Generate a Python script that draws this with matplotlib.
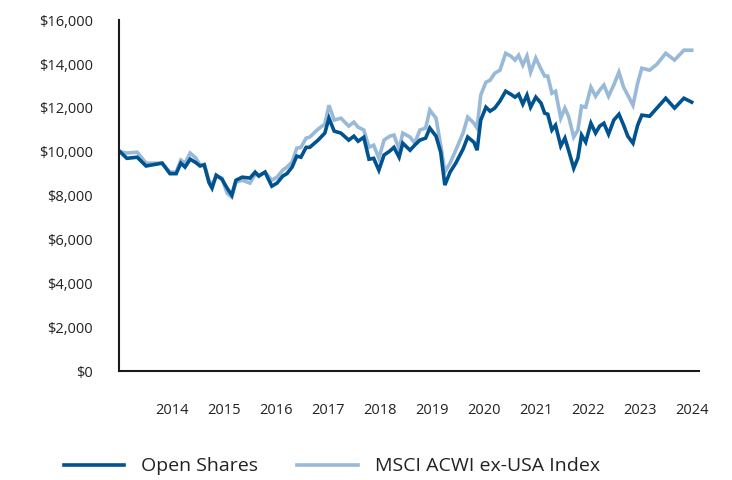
import matplotlib.pyplot as plt
from matplotlib.ticker import FuncFormatter

plt.rcParams['font.family'] = ['Open Sans', 'DejaVu Sans']

# approximate dates (decimal years) of each reading
dates = [2013.00, 2013.13, 2013.33, 2013.50, 2013.81, 2013.96, 2014.08, 2014.17, 2014.25, 2014.35,
         2014.46, 2014.54, 2014.62, 2014.71, 2014.77, 2014.85, 2014.96, 2015.06, 2015.15, 2015.23,
         2015.35, 2015.50, 2015.60, 2015.67, 2015.79, 2015.92, 2016.02, 2016.13, 2016.21, 2016.31,
         2016.40, 2016.48, 2016.58, 2016.65, 2016.81, 2016.94, 2017.02, 2017.12, 2017.25, 2017.40,
         2017.50, 2017.58, 2017.69, 2017.79, 2017.88, 2017.98, 2018.08, 2018.19, 2018.27, 2018.37,
         2018.44, 2018.58, 2018.67, 2018.77, 2018.88, 2018.96, 2019.08, 2019.17, 2019.25, 2019.35,
         2019.46, 2019.60, 2019.69, 2019.81, 2019.87, 2019.94, 2020.04, 2020.12, 2020.21, 2020.31,
         2020.42, 2020.52, 2020.60, 2020.67, 2020.75, 2020.83, 2020.90, 2021.00, 2021.10, 2021.17,
         2021.23, 2021.31, 2021.38, 2021.48, 2021.56, 2021.63, 2021.73, 2021.81, 2021.88, 2021.96,
         2022.06, 2022.15, 2022.23, 2022.31, 2022.40, 2022.50, 2022.60, 2022.69, 2022.77, 2022.87,
         2022.96, 2023.04, 2023.19, 2023.33, 2023.50, 2023.67, 2023.85, 2024.00]

open_shares = [10000, 9700, 9750, 9350, 9480, 9000, 9000, 9480, 9300, 9660,
               9500, 9350, 9400, 8600, 8340, 8930, 8750, 8340, 8020, 8700,
               8840, 8800, 9070, 8890, 9070, 8430, 8570, 8890, 9000, 9300,
               9800, 9750, 10200, 10200, 10530, 10850, 11530, 10940, 10850, 10530,
               10710, 10480, 10660, 9660, 9700, 9160, 9850, 10030, 10200, 9750,
               10390, 10070, 10300, 10530, 10620, 11080, 10710, 9980, 8480, 9070,
               9480, 10120, 10670, 10430, 10070, 11440, 12030, 11850, 11990, 12310,
               12760, 12620, 12490, 12620, 12170, 12580, 12030, 12490, 12220, 11760,
               11710, 10990, 11210, 10260, 10620, 10070, 9250, 9710, 10760, 10440,
               11300, 10850, 11170, 11300, 10800, 11440, 11710, 11210, 10710, 10390,
               11210, 11670, 11620, 11990, 12440, 11990, 12440, 12260]

msci_acwi = [10000, 9940, 9980, 9480, 9480, 9070, 9070, 9620, 9480, 9940,
             9710, 9390, 9430, 8700, 8480, 8890, 8800, 8110, 7930, 8610,
             8700, 8570, 8980, 8930, 9070, 8700, 8840, 9160, 9300, 9530,
             10160, 10200, 10620, 10670, 11030, 11260, 12120, 11440, 11530, 11170,
             11350, 11120, 10990, 10210, 10300, 9710, 10530, 10710, 10760, 10120,
             10850, 10670, 10390, 10990, 11080, 11900, 11530, 10300, 9070, 9480,
             10070, 10850, 11580, 11300, 11080, 12580, 13170, 13260, 13580, 13720,
             14490, 14360, 14180, 14400, 13950, 14360, 13630, 14270, 13770, 13450,
             13450, 12670, 12760, 11530, 11990, 11620, 10670, 10990, 12080, 12030,
             12940, 12530, 12810, 13040, 12530, 13040, 13630, 12940, 12580, 12120,
             13130, 13810, 13720, 13990, 14490, 14180, 14630, 14630]

year_ticks = list(range(2014, 2025))
y_ticks = list(range(0, 16001, 2000))

fig = plt.figure(figsize=(7.32, 4.8), dpi=100)
ax = fig.add_axes([0.1626, 0.227, 0.793, 0.731])

ax.plot(dates, msci_acwi, color='#98b9d7', lw=2.6, label='MSCI ACWI ex-USA Index', solid_joinstyle='miter')
ax.plot(dates, open_shares, color='#00538f', lw=2.6, label='Open Shares', solid_joinstyle='miter')

ax.set_xlim(2012.98, 2024.15)
ax.set_ylim(0, 16000)
ax.set_xticks(year_ticks)
ax.set_yticks(y_ticks)
ax.yaxis.set_major_formatter(FuncFormatter(lambda v, p: f'${v:,.0f}'))
ax.tick_params(axis='both', length=0, labelsize=10.5, colors='#222222')
ax.tick_params(axis='x', pad=23)
ax.tick_params(axis='y', pad=19)

for s in ['top', 'right']:
    ax.spines[s].set_visible(False)
for s in ['left', 'bottom']:
    ax.spines[s].set_color('#1a1a1a')
    ax.spines[s].set_linewidth(1.5)

handles, labels = ax.get_legend_handles_labels()
fig.legend(handles[::-1], labels[::-1], loc='lower left', bbox_to_anchor=(0.063, -0.027),
           ncol=2, frameon=False, fontsize=14, handlelength=3.1, handletextpad=0.9,
           columnspacing=2.0, labelcolor='#222222')

plt.savefig('out.png', dpi=100)
